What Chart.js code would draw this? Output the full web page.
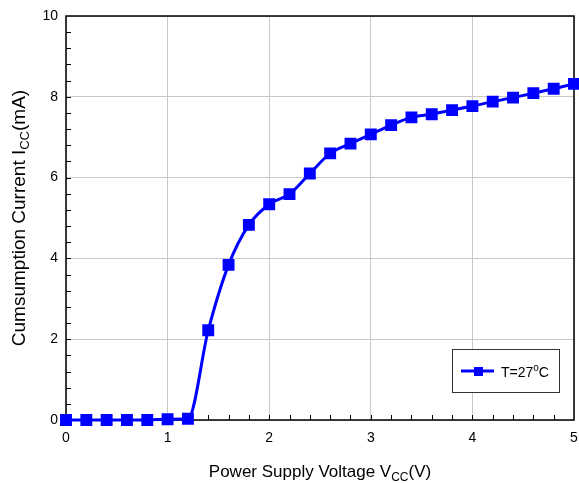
<!DOCTYPE html>
<html>
<head>
<meta charset="utf-8">
<script src="https://cdn.jsdelivr.net/npm/chart.js@4.4.0/dist/chart.umd.min.js"></script>
<style>
    html, body { margin: 0; padding: 0; background: #ffffff; }
    #wrap { width: 579px; height: 484px; position: relative; }
</style>
</head>
<body>
<div id="wrap"><canvas id="chart"></canvas></div>
<script>
const voltage = [0, 0.2, 0.4, 0.6, 0.8, 1.0, 1.2, 1.4, 1.6, 1.8, 2.0, 2.2, 2.4, 2.6, 2.8, 3.0, 3.2, 3.4, 3.6, 3.8, 4.0, 4.2, 4.4, 4.6, 4.8, 5.0]
const current = [0, 0, 0, 0, 0, 0.02, 0.03, 2.22, 3.84, 4.83, 5.34, 5.59, 6.10, 6.60, 6.84, 7.07, 7.30, 7.49, 7.57, 7.67, 7.77, 7.88, 7.98, 8.09, 8.20, 8.32]
const xTicks = [0, 1, 2, 3, 4, 5]
const yTicks = [0, 2, 4, 6, 8, 10]
const seriesLabel = ['T=27', 'o', 'C']
const xTitle = ['Power Supply Voltage V', 'CC', '(V)']
const yTitle = ['Cumsumption Current I', 'CC', '(mA)']

const FONT = "'Liberation Sans', Arial, sans-serif"
const BLUE = '#0000ff'

const points = voltage.map((v, i) => ({ x: v, y: current[i] }))

// text with a small lowered part in the middle (subscript)
function drawParts(ctx, parts, size, shift) {
    const small = Math.round(size * 0.7)
    ctx.font = `${size}px ${FONT}`
    const w0 = ctx.measureText(parts[0]).width
    const w2 = ctx.measureText(parts[2]).width
    ctx.font = `${small}px ${FONT}`
    const w1 = ctx.measureText(parts[1]).width
    return { total: w0 + w1 + w2, draw: (x, y) => {
        ctx.font = `${size}px ${FONT}`
        ctx.fillText(parts[0], x, y)
        ctx.font = `${small}px ${FONT}`
        ctx.fillText(parts[1], x + w0, y + shift)
        ctx.font = `${size}px ${FONT}`
        ctx.fillText(parts[2], x + w0 + w1, y)
    } }
}

const framePlugin = {
    id: 'frame',
    beforeDatasetsDraw(chart) {
        const ctx = chart.ctx
        const a = chart.chartArea
        const xs = chart.scales.x
        const ys = chart.scales.y
        ctx.save()
        ctx.strokeStyle = '#000000'
        ctx.lineWidth = 1
        ctx.beginPath()
        for (let i = 1; i < 25; i++) {
            const px = Math.round(xs.getPixelForValue(i * 0.2)) + 0.5
            ctx.moveTo(px, a.bottom)
            ctx.lineTo(px, a.bottom - 5)
        }
        for (let i = 1; i < 25; i++) {
            const py = Math.round(ys.getPixelForValue(i * 0.4)) + 0.5
            ctx.moveTo(a.left, py)
            ctx.lineTo(a.left + 5, py)
        }
        ctx.stroke()
        ctx.lineWidth = 1.5
        ctx.strokeRect(a.left, a.top, a.right - a.left, a.bottom - a.top)
        ctx.restore()
    },
    afterDraw(chart) {
        const ctx = chart.ctx
        const a = chart.chartArea
        ctx.save()
        ctx.fillStyle = '#000000'
        ctx.textBaseline = 'alphabetic'
        ctx.textAlign = 'left'
        const xt = drawParts(ctx, xTitle, 17, 4)
        xt.draw((a.left + a.right) / 2 - xt.total / 2, 477)
        ctx.translate(25, (a.top + a.bottom) / 2)
        ctx.rotate(-Math.PI / 2)
        const yt = drawParts(ctx, yTitle, 19, 4)
        yt.draw(-yt.total / 2, 0)
        ctx.restore()

        // legend box
        ctx.save()
        ctx.fillStyle = '#ffffff'
        ctx.fillRect(452, 349, 107, 43)
        ctx.strokeStyle = '#333333'
        ctx.lineWidth = 1
        ctx.strokeRect(452.5, 349.5, 107, 43)
        ctx.strokeStyle = BLUE
        ctx.lineWidth = 3
        ctx.beginPath()
        ctx.moveTo(461, 371)
        ctx.lineTo(494, 371)
        ctx.stroke()
        ctx.fillStyle = BLUE
        ctx.fillRect(474, 367, 9, 9)
        ctx.fillStyle = '#000000'
        ctx.font = `14px ${FONT}`
        let x = 501
        ctx.fillText(seriesLabel[0], x, 377)
        x += ctx.measureText(seriesLabel[0]).width
        ctx.font = `10px ${FONT}`
        ctx.fillText(seriesLabel[1], x, 371)
        x += ctx.measureText(seriesLabel[1]).width
        ctx.font = `14px ${FONT}`
        ctx.fillText(seriesLabel[2], x, 377)
        ctx.restore()
    }
}

new Chart(document.getElementById('chart'), {
    type: 'line',
    data: {
        datasets: [{
            label: seriesLabel.join(''),
            data: points,
            borderColor: BLUE,
            backgroundColor: BLUE,
            borderWidth: 3,
            pointStyle: 'rect',
            pointRadius: 6.3,
            pointHoverRadius: 6.3,
            cubicInterpolationMode: 'monotone',
            clip: false
        }]
    },
    options: {
        responsive: true,
        maintainAspectRatio: false,
        animation: false,
        events: [],
        layout: { autoPadding: false, padding: { left: 0, top: 16, right: 5, bottom: 0 } },
        plugins: {
            legend: { display: false },
            tooltip: { enabled: false }
        },
        scales: {
            x: {
                type: 'linear',
                min: 0,
                max: 5,
                afterBuildTicks: (scale) => { scale.ticks = xTicks.map(v => ({ value: v })) },
                afterFit: (scale) => {
                    scale.height = 64
                    scale.paddingLeft = 0
                    scale.paddingRight = 0
                },
                grid: { color: '#c8c8c8', lineWidth: 1, drawTicks: false },
                border: { display: false },
                ticks: { color: '#000000', padding: 10, maxRotation: 0, font: { family: FONT, size: 14 } }
            },
            y: {
                type: 'linear',
                min: 0,
                max: 10,
                afterBuildTicks: (scale) => { scale.ticks = yTicks.map(v => ({ value: v })) },
                afterFit: (scale) => {
                    scale.width = 66
                    scale.paddingTop = 0
                    scale.paddingBottom = 0
                },
                grid: { color: '#c8c8c8', lineWidth: 1, drawTicks: false },
                border: { display: false },
                ticks: { color: '#000000', padding: 8, font: { family: FONT, size: 14 } }
            }
        }
    },
    plugins: [framePlugin]
});
</script>
</body>
</html>
